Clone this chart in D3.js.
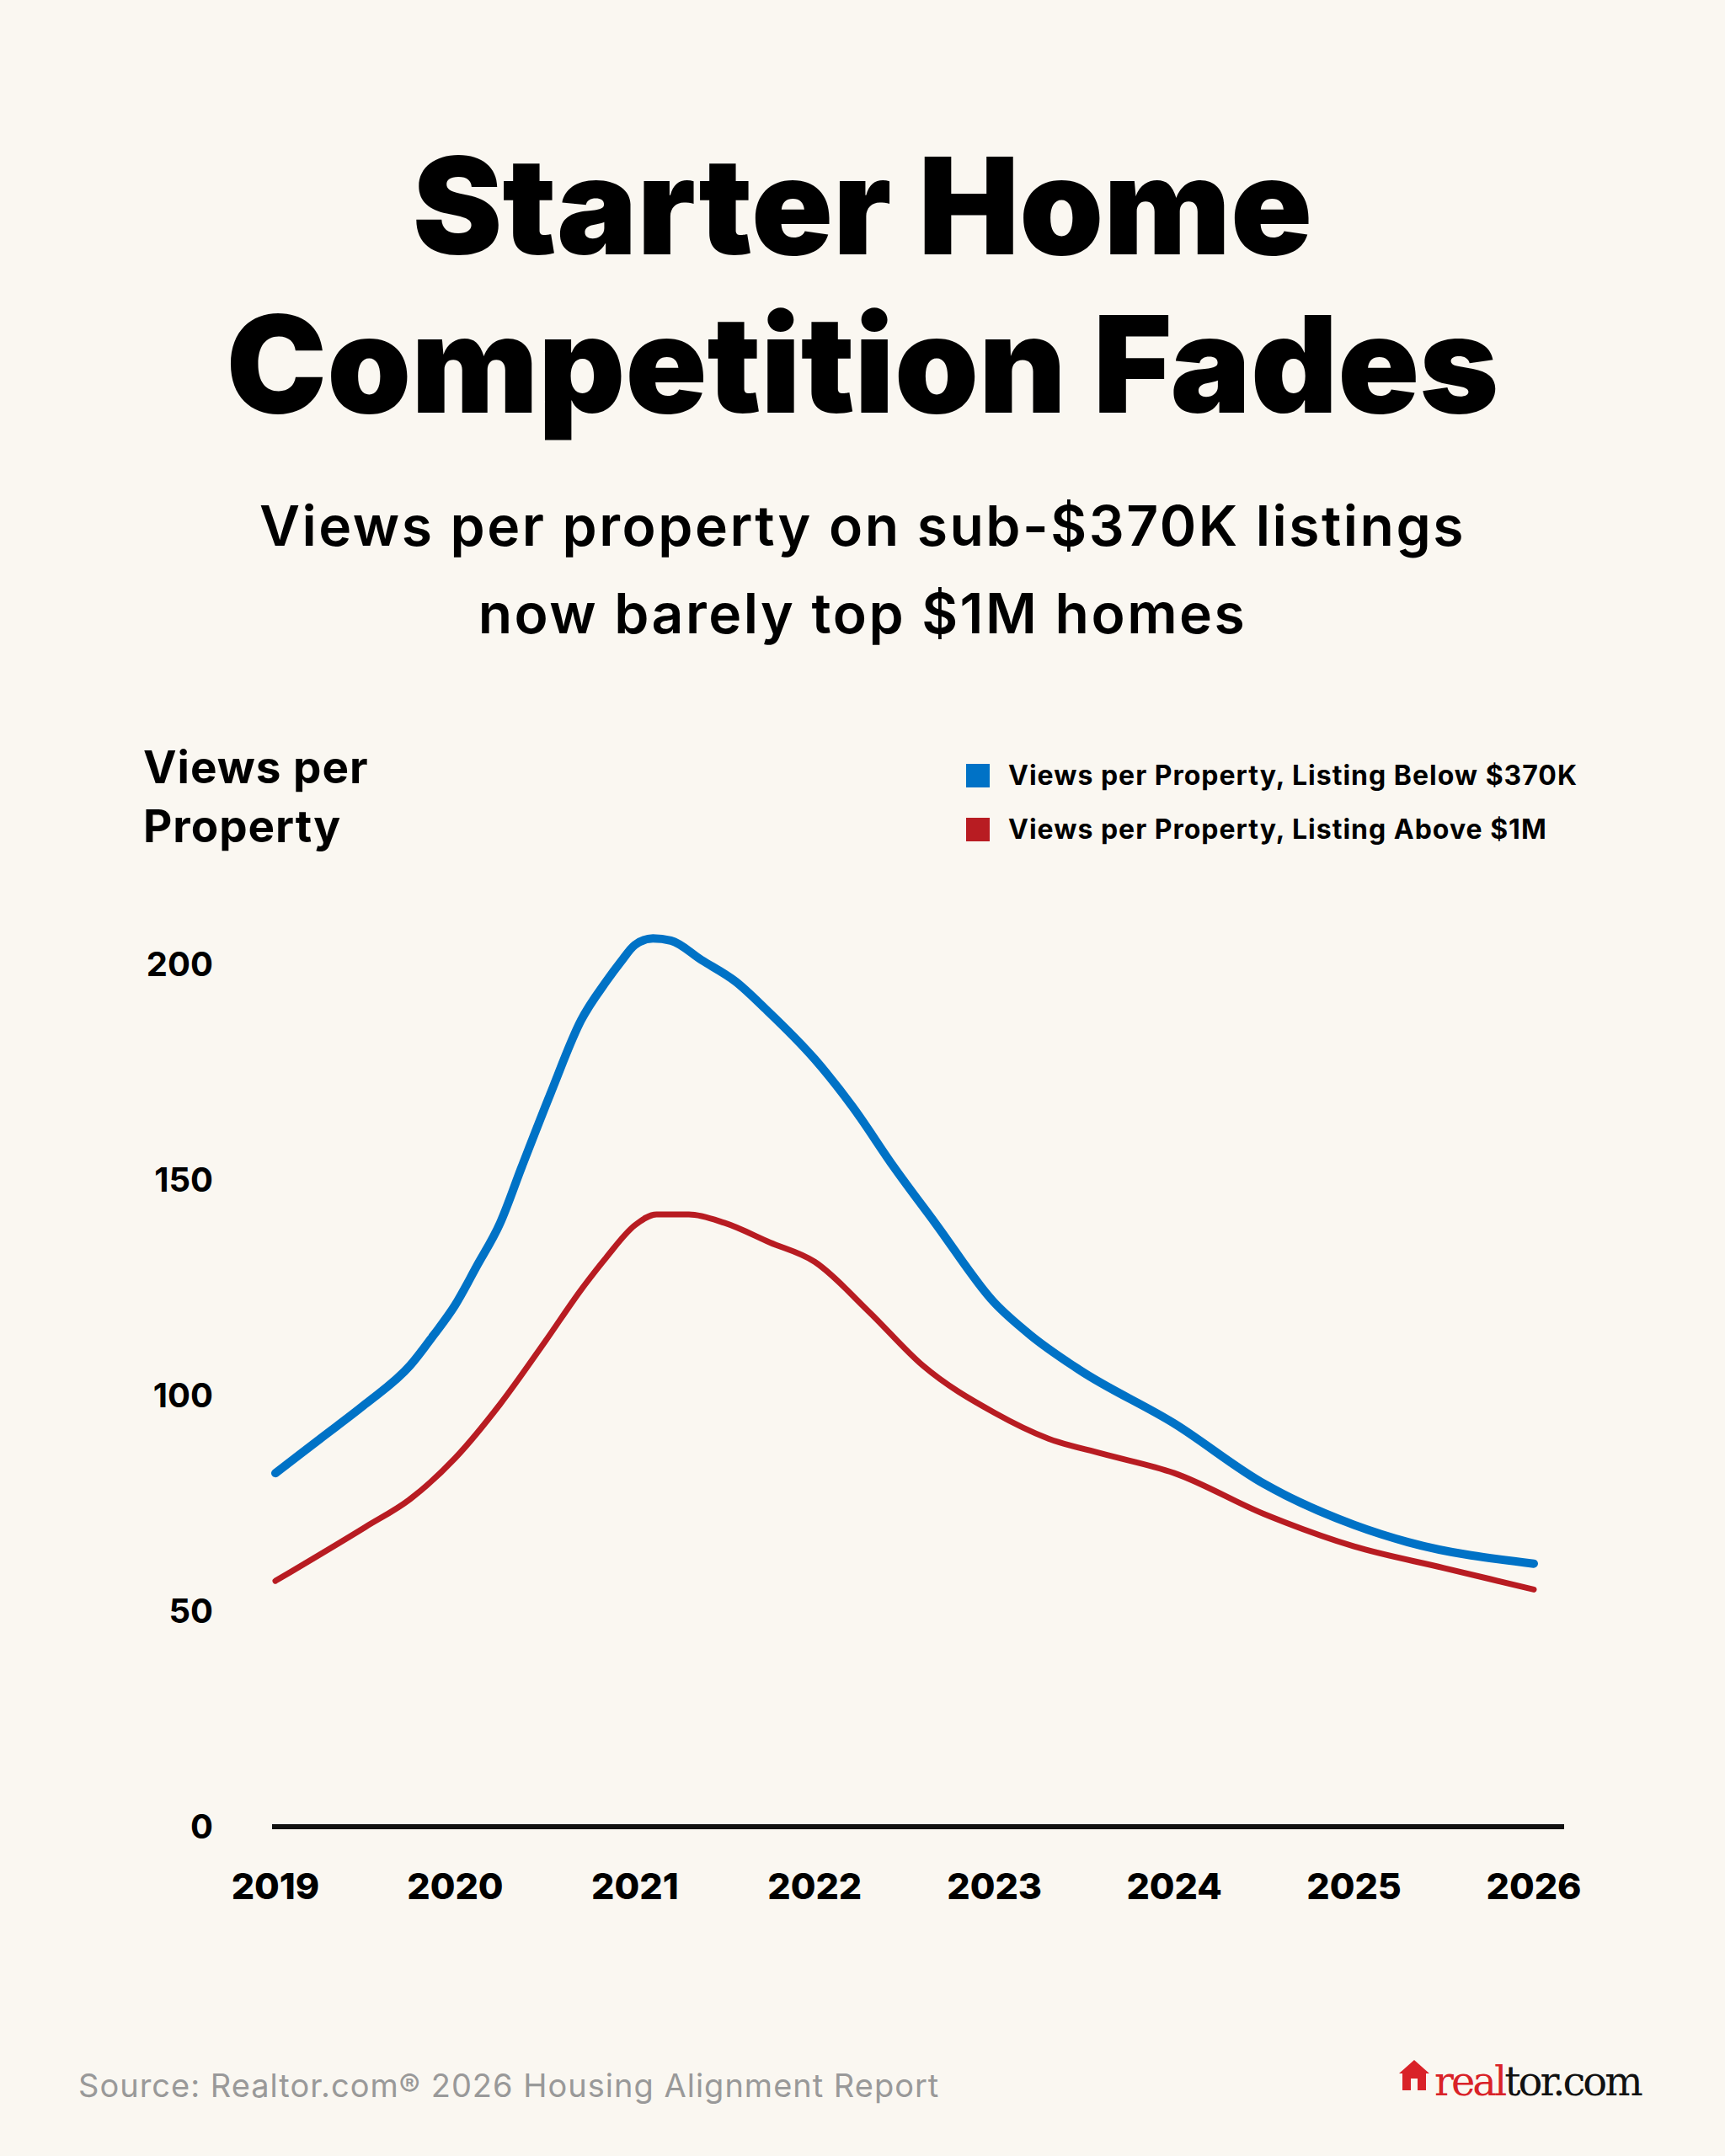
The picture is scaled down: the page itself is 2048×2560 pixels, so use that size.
<!DOCTYPE html>
<html><head><meta charset="utf-8">
<script src="https://cdn.jsdelivr.net/npm/d3@7"></script>
<style>body{margin:0;background:#faf7f1}svg{display:block}</style>
</head><body>
<svg id="c" width="2048" height="2560"></svg>
<script>
const years = [2019, 2020, 2021, 2022, 2023, 2024, 2025, 2026];
const yTicks = [0, 50, 100, 150, 200];
const blueT = [2019, 2019.25, 2019.5, 2019.75, 2019.88, 2020, 2020.12, 2020.25, 2020.37, 2020.53, 2020.7, 2020.84, 2020.92, 2021, 2021.1, 2021.2, 2021.37, 2021.56, 2021.73, 2022, 2022.21, 2022.44, 2022.67, 2023, 2023.2, 2023.47, 2024, 2024.5, 2025, 2025.3, 2026];
const blueV = [82, 90, 98, 107, 114, 121, 130, 140, 153, 170, 187, 196, 200.5, 204.5, 206, 205.5, 201, 196, 189.5, 178, 167, 153, 140, 121.5, 114, 106, 93.5, 79.5, 70, 66, 61];
const redT = [2019, 2019.5, 2019.75, 2020, 2020.25, 2020.5, 2020.7, 2020.84, 2021, 2021.12, 2021.3, 2021.5, 2021.75, 2022, 2022.3, 2022.6, 2023, 2023.3, 2023.6, 2024, 2024.5, 2025, 2025.5, 2026];
const redV = [57, 69.5, 76, 85.5, 98, 112.5, 124.5, 132, 139.5, 142, 142, 140, 135.5, 131, 119.5, 107, 96, 90, 86.5, 82, 72.5, 65, 60, 55];
const legend = ["Views per Property, Listing Below $370K", "Views per Property, Listing Above $1M"];
const colors = ["#0072c6", "#b81c22"];

const svg = d3.select("#c");
const F = "Inter, 'Noto Sans', sans-serif";
svg.append("rect").attr("width", 2048).attr("height", 2560).attr("fill", "#faf7f1");

// titles
[["Starter Home", 302], ["Competition Fades", 490]].forEach(([t, y]) =>
  svg.append("text").attr("x", 1024).attr("y", y).attr("text-anchor", "middle")
    .attr("font-family", F).attr("font-weight", 900).attr("font-size", 160)
    .attr("letter-spacing", 0).text(t));
[["Views per property on sub-$370K listings", 648], ["now barely top $1M homes", 752]].forEach(([t, y]) =>
  svg.append("text").attr("x", 1024).attr("y", y).attr("text-anchor", "middle")
    .attr("font-family", F).attr("font-weight", 600).attr("font-size", 66)
    .attr("letter-spacing", 2.5).text(t));

// y axis title
[["Views per", 930], ["Property", 1000]].forEach(([t, y]) =>
  svg.append("text").attr("x", 170).attr("y", y).attr("font-family", F)
    .attr("font-weight", 700).attr("font-size", 53).attr("letter-spacing", 1).text(t));

// legend
legend.forEach((t, i) => {
  const y = 921 + i * 64;
  svg.append("rect").attr("x", 1147).attr("y", y - 14).attr("width", 28).attr("height", 28).attr("fill", colors[i]);
  svg.append("text").attr("x", 1197).attr("y", y + 11).attr("font-family", F)
    .attr("font-weight", 700).attr("font-size", 32).attr("letter-spacing", 1).text(t);
});

const x = d3.scaleLinear().domain([2019, 2026]).range([327, 1821]);
const y = d3.scaleLinear().domain([0, 200]).range([2169, 1145]);

// y ticks
svg.append("g").selectAll("text").data(yTicks).join("text")
  .attr("x", 253).attr("y", d => y(d) + 14).attr("text-anchor", "end")
  .attr("font-family", F).attr("font-weight", 700).attr("font-size", 40).text(d => d);

// baseline
svg.append("line").attr("x1", 323).attr("x2", 1857).attr("y1", y(0)).attr("y2", y(0))
  .attr("stroke", "#111").attr("stroke-width", 6);

// x labels
svg.append("g").selectAll("text").data(years).join("text")
  .attr("x", d => x(d)).attr("y", 2255).attr("text-anchor", "middle")
  .attr("font-family", F).attr("font-weight", 800).attr("font-size", 43).text(d => d);

const line = d3.line().x(d => x(d[0])).y(d => y(d[1])).curve(d3.curveMonotoneX);
[[blueT, blueV], [redT, redV]].forEach(([t, v], i) =>
  svg.append("path").datum(t.map((d, j) => [d, v[j]])).attr("d", line)
    .attr("fill", "none").attr("stroke", colors[i]).attr("stroke-width", i ? 7 : 10)
    .attr("stroke-linejoin", "round").attr("stroke-linecap", "round"));

// source
svg.append("text").attr("x", 93).attr("y", 2490).attr("font-family", F)
  .attr("font-size", 38).attr("letter-spacing", 1).attr("fill", "#999").text("Source: Realtor.com® 2026 Housing Alignment Report");

// logo
const lg = svg.append("g").attr("transform", "translate(1665,2488)");
lg.append("path").attr("d", "M0,-6 L0,-26 L-4,-26 L14,-42 L32,-26 L28,-26 L28,-6 Z").attr("fill", "#d92228");
lg.append("rect").attr("x", 10).attr("y", -20).attr("width", 8).attr("height", 14).attr("fill", "#faf7f1");
const lt = lg.append("text").attr("x", 38).attr("y", 0).attr("font-family", "'DejaVu Serif', 'Liberation Serif', serif")
  .attr("font-size", 48).attr("letter-spacing", -3);
lt.append("tspan").attr("fill", "#d92228").text("real");
lt.append("tspan").attr("fill", "#111").text("tor.com");
</script>
</body></html>
